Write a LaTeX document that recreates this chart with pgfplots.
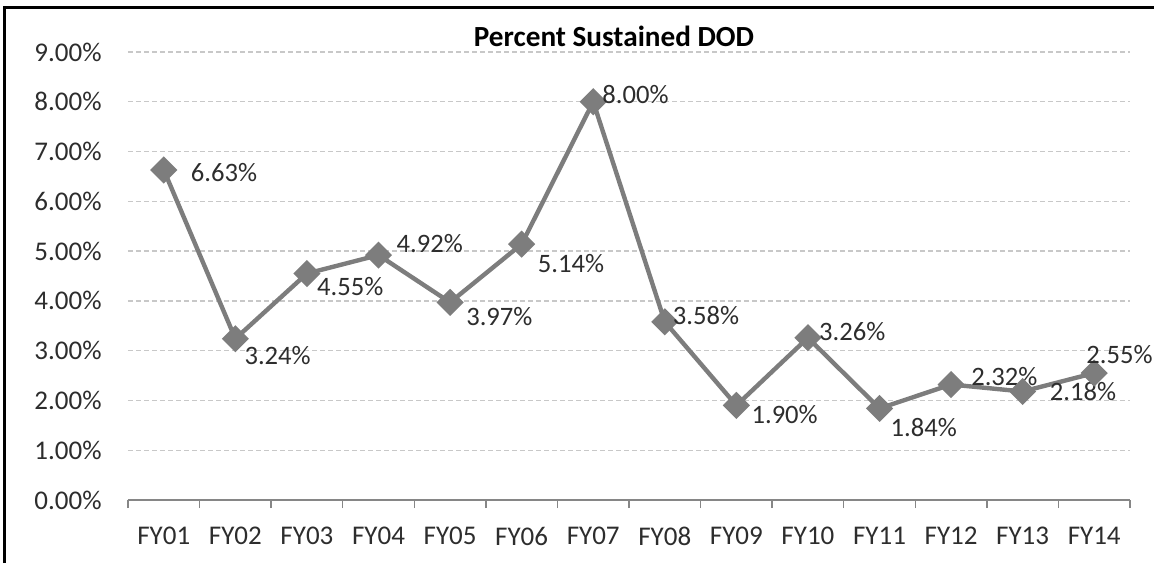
\documentclass[border=0pt]{standalone}
\usepackage{fontspec}
\setmainfont{Carlito}
\usepackage{pgfplots}
\usepackage{pgfplotstable}
\pgfplotsset{compat=1.18}

\definecolor{linegray}{RGB}{125,125,125}
\definecolor{gridgray}{RGB}{200,200,200}
\definecolor{axisgray}{RGB}{134,134,134}
\definecolor{txt}{RGB}{45,45,45}

% x, value (%), label offsets in pt
\pgfplotstableread{
x  y    dx    dy
1  6.63 12.5  -1.5
2  3.24 3.5   -8.5
3  4.55 4     -6.5
4  4.92 8     6
5  3.97 7     -7
6  5.14 7     -9.5
7  8.00 3.5   3.5
8  3.58 3     3
9  1.90 6.5   -4.5
10 3.26 4.5   3
11 1.84 4.5   -9.5
12 2.32 9     4
13 2.18 12.5  0
14 2.55 -5    9.5
}\dod

\begin{document}
\begin{tikzpicture}
\begin{axis}[
    scale only axis,
    width=501pt, height=224pt,
    at={(0,0)}, anchor=south west,
    xmin=0.5, xmax=14.5,
    ymin=0, ymax=9,
    clip=false,
    axis lines*=left,
    axis line style={-},
    x axis line style={axisgray, line width=0.75pt},
    y axis line style={draw=none},
    xtick={1,...,14},
    xticklabels={FY01,FY02,FY03,FY04,FY05,FY06,FY07,FY08,FY09,FY10,FY11,FY12,FY13,FY14},
    minor xtick={0.5,1.5,...,14.5},
    ytick={0,1,...,9},
    tick align=outside,
    major tick length=0pt,
    minor tick length=4pt,
    x tick style={axisgray, line width=0.75pt},
    ytick style={draw=none},
    ymajorgrids,
    grid style={gridgray, dash pattern=on 2.5pt off 1.5pt, line width=0.7pt},
    /pgf/number format/assume math mode=true,
    yticklabel={\pgfmathprintnumber[fixed,fixed zerofill,precision=2]{\tick}\%},
    yticklabel style={font=\fontsize{13.5}{16}\selectfont, text=txt, inner sep=0pt, anchor=east, xshift=-13pt},
    xticklabel style={font=\fontsize{13.5}{16}\selectfont, text=txt, inner sep=0pt, anchor=north, yshift=-13.5pt},
]
\addplot[
    linegray, line width=2.2pt,
    mark=square*, mark size=3.7pt,
    mark options={rotate=45, fill=linegray, draw=linegray, solid},
    point meta=explicit,
    visualization depends on={\thisrow{dx} \as \dx},
    visualization depends on={\thisrow{dy} \as \dy},
    nodes near coords={\pgfmathprintnumber[fixed,fixed zerofill,precision=2]{\pgfplotspointmeta}\%},
    nodes near coords style={anchor=west, inner sep=0pt, xshift=\dx pt, yshift=\dy pt,
        font=\fontsize{13.3}{16}\selectfont, text=txt},
] table[x=x, y=y, meta=y] {\dod};
\end{axis}
\node[anchor=base, inner sep=0pt, font=\bfseries\fontsize{14.6}{17}\selectfont, text=black]
    at (243pt,226.5pt) {Percent Sustained DOD};
\draw[line width=1.5pt] (-61.5pt,-31.5pt) -- (-61.5pt,246pt) -- (513pt,246pt);
\pgfresetboundingbox
\path[use as bounding box] (-64pt,-31.5pt) rectangle (513pt,250pt);
\end{tikzpicture}
\end{document}
